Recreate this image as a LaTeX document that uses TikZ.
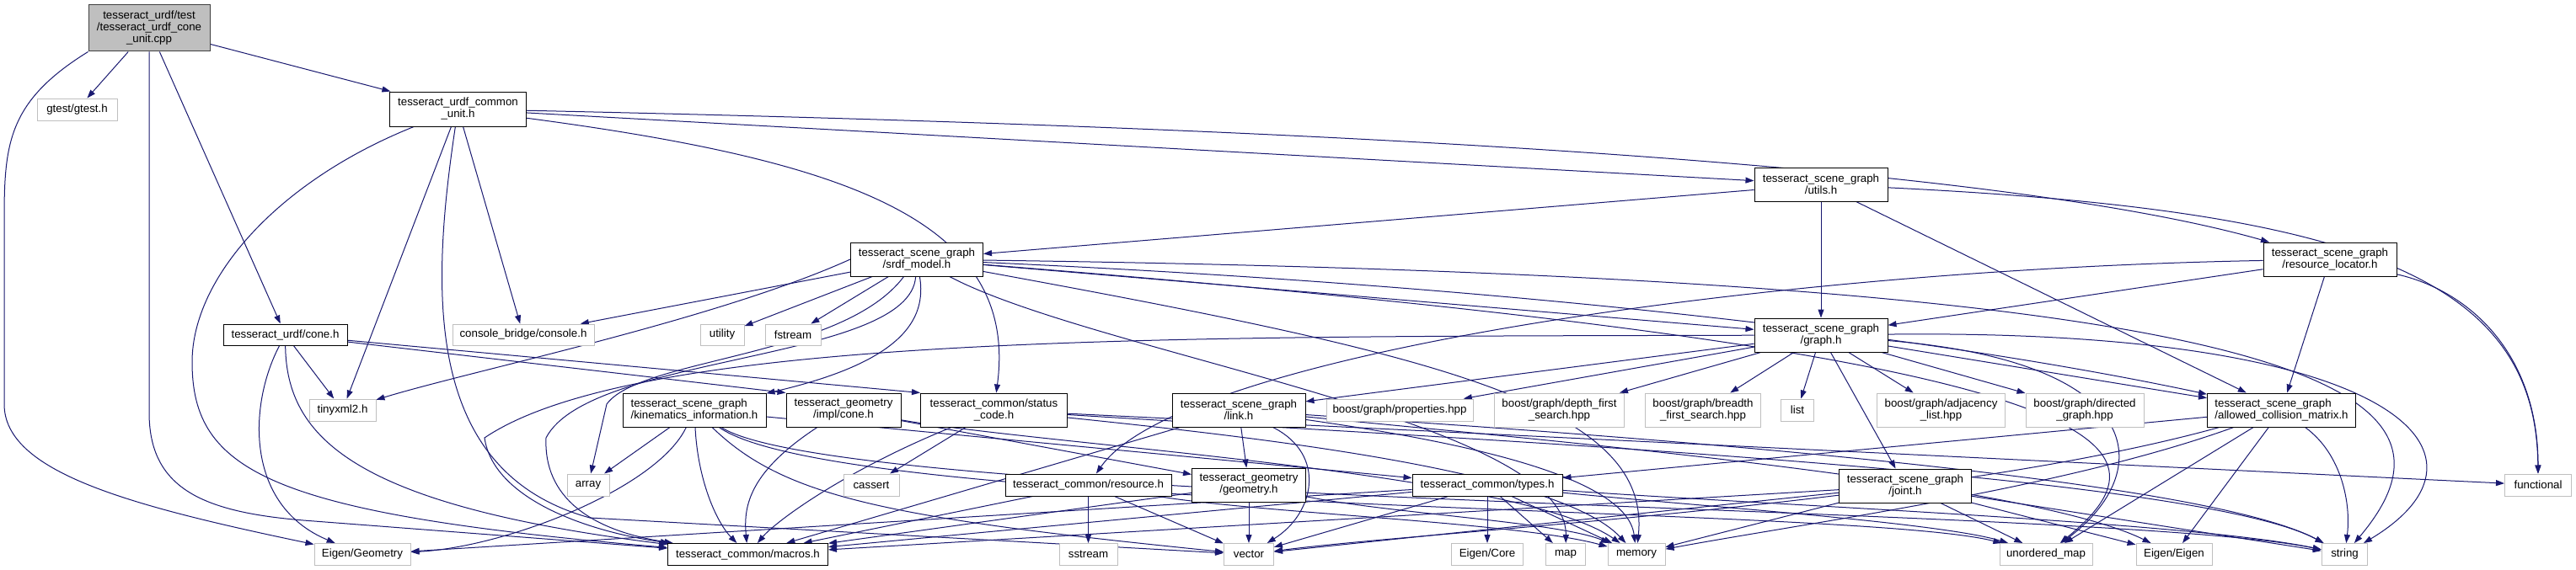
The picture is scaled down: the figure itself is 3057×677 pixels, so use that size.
\documentclass[tikz,border=0pt]{standalone}
\usepackage{fontspec}
\setmainfont{Liberation Sans}
\usetikzlibrary{arrows.meta,backgrounds}
\definecolor{dgblue}{RGB}{25,25,112}
\definecolor{dggrey}{RGB}{191,191,191}
\definecolor{dgdark}{RGB}{64,64,64}

\begin{document}
\begin{tikzpicture}[x=1pt, y=-1pt,
    hdr/.style={rectangle, draw=black, line width=1pt, fill=white, inner sep=0pt,
        minimum height=26pt, align=center, font=\fontsize{13.3}{14}\selectfont},
    sys/.style={hdr, draw=dggrey},
    twoline/.style={minimum height=40pt},
    dep/.style={-{Triangle[length=10pt,width=7pt]}, line width=1pt, dgblue}
]
    \useasboundingbox (0,0) rectangle (3057,677);

    % top rows
    \node[hdr, fill=dggrey, draw=dgdark, minimum width=144pt, minimum height=55pt] (root) at (177,33.5) {tesseract\_urdf/test\\/tesseract\_urdf\_cone\\\_unit.cpp};
    \node[sys, minimum width=95pt] (gtest) at (91.5,130) {gtest/gtest.h};
    \node[hdr, minimum width=162pt, minimum height=41pt] (commonunit) at (543.5,129.5) {tesseract\_urdf\_common\\\_unit.h};
    \node[hdr, twoline, minimum width=157pt] (srdf) at (1088,308) {tesseract\_scene\_graph\\/srdf\_model.h};
    \node[hdr, twoline, minimum width=158pt] (utils) at (2161,219) {tesseract\_scene\_graph\\/utils.h};
    \node[hdr, twoline, minimum width=158pt] (locator) at (2765,308) {tesseract\_scene\_graph\\/resource\_locator.h};

    \node[hdr, minimum width=147pt, minimum height=25pt] (cone) at (338.5,397.5) {tesseract\_urdf/cone.h};
    \node[sys, minimum width=168pt, minimum height=25pt] (console) at (621,397.5) {console\_bridge/console.h};
    \node[sys, minimum width=52pt, minimum height=25pt] (utility) at (857,397.5) {utility};
    \node[sys, minimum width=66pt, minimum height=25pt] (fstream) at (941,397.5) {fstream};
    \node[hdr, twoline, minimum width=158pt] (graph) at (2161,398) {tesseract\_scene\_graph\\/graph.h};

    % middle row
    \node[sys, minimum width=79pt] (tinyxml) at (406.5,487) {tinyxml2.h};
    \node[hdr, twoline, minimum width=170pt, align=left] (kininfo) at (824,487) {tesseract\_scene\_graph\\/kinematics\_information.h};
    \node[hdr, twoline, minimum width=136pt] (implcone) at (1001,487) {tesseract\_geometry\\/impl/cone.h};
    \node[hdr, twoline, minimum width=174pt] (status) at (1179.5,487) {tesseract\_common/status\\\_code.h};
    \node[hdr, twoline, minimum width=158pt] (link) at (1470,487) {tesseract\_scene\_graph\\/link.h};
    \node[sys, minimum width=174pt] (props) at (1661,487) {boost/graph/properties.hpp};
    \node[sys, twoline, minimum width=154pt] (dfs) at (1850.5,487) {boost/graph/depth\_first\\\_search.hpp};
    \node[sys, twoline, minimum width=137pt] (bfs) at (2021,487) {boost/graph/breadth\\\_first\_search.hpp};
    \node[sys, minimum width=39pt] (list) at (2133,487) {list};
    \node[sys, twoline, minimum width=152pt] (adjlist) at (2303.5,487) {boost/graph/adjacency\\\_list.hpp};
    \node[sys, twoline, minimum width=140pt] (digraph) at (2474,487) {boost/graph/directed\\\_graph.hpp};
    \node[hdr, twoline, minimum width=176pt, align=left] (acm) at (2707.5,487) {tesseract\_scene\_graph\\/allowed\_collision\_matrix.h};

    \node[sys, minimum width=50pt] (array) at (698,576) {array};
    \node[sys, minimum width=66pt] (cassert) at (1034,576) {cassert};
    \node[hdr, minimum width=197pt] (resource) at (1291.5,576) {tesseract\_common/resource.h};
    \node[hdr, twoline, minimum width=135pt] (geometry) at (1482,576) {tesseract\_geometry\\/geometry.h};
    \node[hdr, minimum width=178pt] (types) at (1765,576) {tesseract\_common/types.h};
    \node[hdr, twoline, minimum width=157pt] (joint) at (2261,577) {tesseract\_scene\_graph\\/joint.h};
    \node[sys, minimum width=79pt] (functional) at (3012,576) {functional};

    % bottom row
    \node[sys, minimum width=114pt] (eigengeo) at (430,658.5) {Eigen/Geometry};
    \node[hdr, minimum width=190pt] (macros) at (887.5,658.5) {tesseract\_common/macros.h};
    \node[sys, minimum width=69pt] (sstream) at (1291.5,658.5) {sstream};
    \node[sys, minimum width=59pt] (vector) at (1482,658.5) {vector};
    \node[sys, minimum width=85pt] (eigencore) at (1765,658.5) {Eigen/Core};
    \node[sys, minimum width=47pt] (map) at (1858,658.5) {map};
    \node[sys, minimum width=68pt] (memory) at (1942,658.5) {memory};
    \node[sys, minimum width=110pt] (umap) at (2428,658.5) {unordered\_map};
    \node[sys, minimum width=90pt] (eigen) at (2580,658.5) {Eigen/Eigen};
    \node[sys, minimum width=54.5pt] (string) at (2782.5,658.5) {string};

    \begin{scope}[on background layer]
    \fill[white] (0,0) rectangle (3057,677);

    % includes of the test file
    \draw[dep] (root) -- (gtest);
    \draw[dep] (root) -- (cone);
    \draw[dep] (root) -- (commonunit);
    \draw[dep] (root.south west) .. controls (10,120) and (5,170) .. (5,260) -- (5,480) .. controls (5,560) and (150,600) .. (eigengeo);
    \draw[dep] (root) -- (177,490) .. controls (177,580) and (240,608) .. (360,618) -- (macros);

    \draw[dep] (commonunit) .. controls (330,215) and (228,330) .. (228,430) .. controls (228,560) and (320,610) .. (macros);
    \draw[dep] (commonunit) -- (tinyxml);
    \draw[dep] (commonunit) -- (console);
    \draw[dep] (commonunit) .. controls (512,340) and (500,560) .. (700,615) -- (vector);
    \draw[dep] (commonunit) .. controls (1000,190) and (1210,260) .. (status);
    \draw[dep] (commonunit) -- (utils);
    \draw[dep] (commonunit) .. controls (1500,150) and (2350,190) .. (locator);

    \draw[dep] (cone) -- (tinyxml);
    \draw[dep] (cone) .. controls (295,480) and (290,600) .. (eigengeo);
    \draw[dep] (cone) .. controls (340,520) and (420,600) .. (macros);
    \draw[dep] (cone) -- (status.north west);
    \draw[dep] (cone) -- (implcone.north west);

    \draw[dep] (utils) -- (srdf);
    \draw[dep] (utils) -- (graph);
    \draw[dep] (utils) -- (acm);
    \draw[dep] (utils) .. controls (2800,250) and (3010,330) .. (functional);

    \draw[dep] (locator) -- (graph);
    \draw[dep] (locator) .. controls (2100,320) and (1400,420) .. (resource);
    \draw[dep] (locator) -- (acm);
    \draw[dep] (locator) .. controls (2930,345) and (3012,420) .. (functional);

    % srdf model
    \draw[dep] (srdf) -- (utility);
    \draw[dep] (srdf) -- (fstream);
    \draw[dep] (srdf) -- (console);
    \draw[dep] (srdf.west) .. controls (850,380) and (560,440) .. (tinyxml);
    \draw[dep] (srdf) .. controls (1000,425) and (760,425) .. (720,480) -- (array);
    \draw[dep] (srdf) .. controls (1080,430) and (700,420) .. (648,520) .. controls (645,590) and (700,630) .. (macros);
    \draw[dep] (srdf) .. controls (1100,380) and (1070,430) .. (kininfo);
    \draw[dep] (srdf) -- (graph);
    \draw[dep] (srdf) .. controls (1800,340) and (2300,400) .. (acm);
    \draw[dep] (srdf) .. controls (2750,330) and (2950,460) .. (string);
    \draw[dep] (srdf) .. controls (2500,420) and (2600,520) .. (umap);
    \draw[dep] (srdf) .. controls (1700,420) and (1960,480) .. (memory);
    \draw[dep] (srdf) .. controls (1300,420) and (1860,500) .. (map);

    \draw[dep] (kininfo) -- (array);
    \draw[dep] (kininfo) .. controls (780,580) and (600,650) .. (eigengeo);
    \draw[dep] (kininfo) .. controls (828,570) and (850,620) .. (macros);
    \draw[dep] (kininfo) .. controls (930,590) and (1050,615) .. (vector);
    \draw[dep] (kininfo) -- (types);
    \draw[dep] (kininfo) .. controls (1000,610) and (2200,600) .. (umap);
    \draw[dep] (kininfo) .. controls (1000,600) and (2500,600) .. (string);

    \draw[dep] (implcone) .. controls (890,560) and (882,600) .. (macros);
    \draw[dep] (implcone) -- (geometry);
    \draw[dep] (implcone) .. controls (1250,530) and (1800,560) .. (memory);

    \draw[dep] (status) -- (cassert);
    \draw[dep] (status) .. controls (1000,560) and (920,620) .. (macros);
    \draw[dep] (status) .. controls (1500,520) and (1850,560) .. (memory);
    \draw[dep] (status) .. controls (1700,520) and (2600,560) .. (string);
    \draw[dep] (status) -- (functional);

    \draw[dep] (resource) -- (sstream);
    \draw[dep] (resource) -- (vector);
    \draw[dep] (resource) -- (macros);
    \draw[dep] (resource) .. controls (1500,610) and (1800,620) .. (memory);

    \draw[dep] (geometry) -- (vector);
    \draw[dep] (geometry) -- (macros);
    \draw[dep] (geometry) .. controls (1650,610) and (1850,620) .. (memory);

    \draw[dep] (link) -- (geometry);
    \draw[dep] (link) .. controls (1575,540) and (1560,610) .. (vector);
    \draw[dep] (link) -- (macros);
    \draw[dep] (link) .. controls (1700,520) and (1930,560) .. (memory);
    \draw[dep] (link) .. controls (1800,510) and (2600,560) .. (string);
    \draw[dep] (link) .. controls (1800,520) and (2400,570) .. (eigen);

    \draw[dep] (types) -- (eigencore);
    \draw[dep] (types) -- (map);
    \draw[dep] (types) -- (memory);
    \draw[dep] (types) -- (vector);
    \draw[dep] (types) -- (macros);
    \draw[dep] (types) -- (eigengeo);
    \draw[dep] (types) .. controls (2000,600) and (2300,620) .. (umap);
    \draw[dep] (types) .. controls (2100,600) and (2600,620) .. (string);

    \draw[dep] (joint) -- (macros);
    \draw[dep] (joint) -- (vector);
    \draw[dep] (joint) -- (memory);
    \draw[dep] (joint) -- (eigen);
    \draw[dep] (joint) -- (string);
    \draw[dep] (joint) -- (umap);

    \draw[dep] (acm) -- (types);
    \draw[dep] (acm) -- (umap);
    \draw[dep] (acm) -- (eigen);
    \draw[dep] (acm) .. controls (2780,540) and (2790,600) .. (string);
    \draw[dep] (acm) .. controls (2450,580) and (2150,620) .. (memory);
    \draw[dep] (acm) .. controls (2300,600) and (1700,630) .. (vector);

    % scene graph
    \draw[dep] (graph) -- (props);
    \draw[dep] (graph) -- (dfs);
    \draw[dep] (graph) -- (bfs);
    \draw[dep] (graph) -- (list);
    \draw[dep] (graph) -- (adjlist);
    \draw[dep] (graph) -- (digraph);
    \draw[dep] (graph) -- (link);
    \draw[dep] (graph) -- (joint);
    \draw[dep] (graph) -- (acm);
    \draw[dep] (graph) .. controls (1400,400) and (760,395) .. (575,520) .. controls (585,590) and (690,630) .. (macros);
    \draw[dep] (graph) .. controls (2850,390) and (2980,540) .. (string);
    \draw[dep] (graph) .. controls (2550,430) and (2560,560) .. (umap);
    \end{scope}
\end{tikzpicture}
\end{document}
